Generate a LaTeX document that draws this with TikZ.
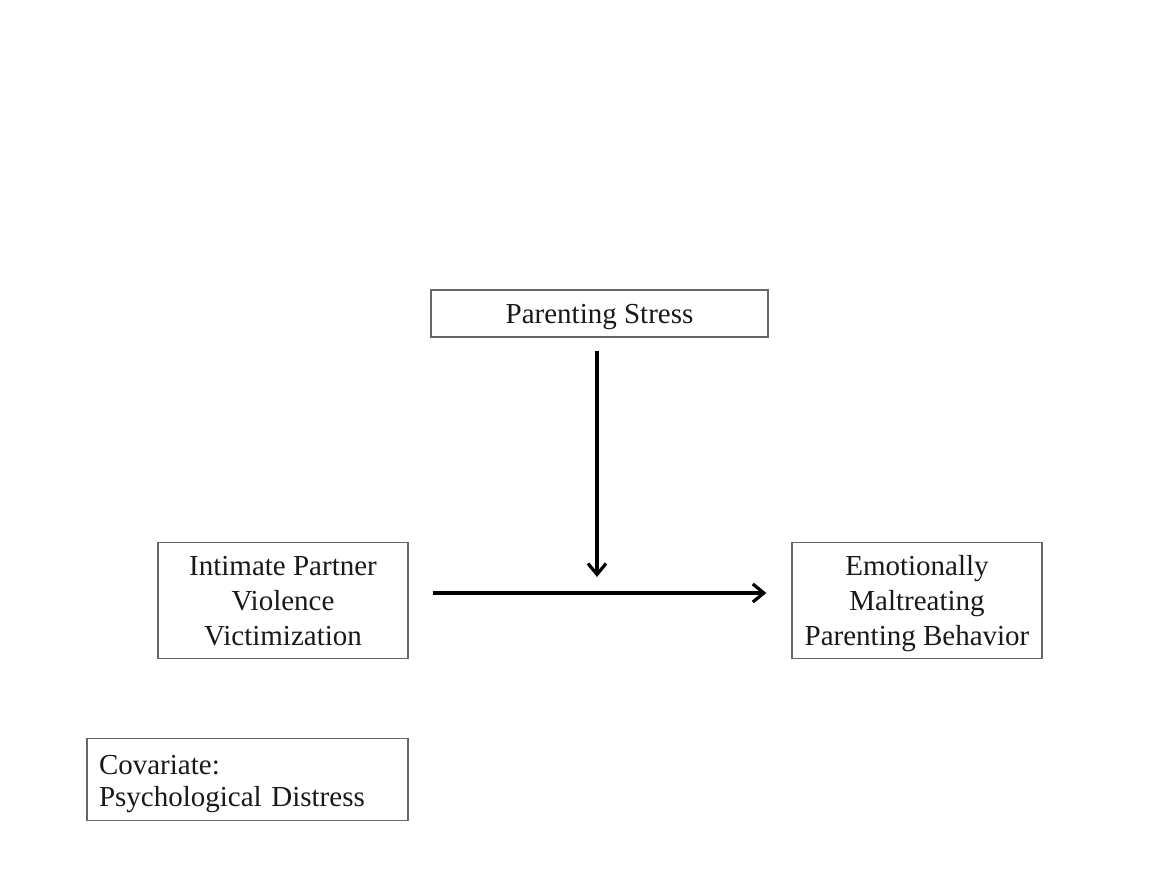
\documentclass[tikz,border=0pt]{standalone}
\usepackage{fontspec}
\setmainfont{Liberation Serif}
\usetikzlibrary{arrows.meta}
\begin{document}
\begin{tikzpicture}[x=1pt,y=-1pt,
  box/.style={draw=black!60, line width=1.3pt, inner sep=0pt, font=\fontsize{29}{35}\selectfont, text=black!90, align=center},
  arr/.style={line width=3.2pt, -{Straight Barb[length=11pt,width=18pt,line width=3.2pt]}}]
\useasboundingbox[fill=white] (0,0) rectangle (1159,873);
\node[box, text depth=0pt, minimum width=337pt, minimum height=47pt] (ps) at (599.5,313.5) {Parenting Stress};
\node[box, text depth=0pt, minimum width=250pt, minimum height=116pt] (ipv) at (283,600.5) {Intimate Partner\\Violence\\Victimization};
\node[box, text depth=0pt, minimum width=250pt, minimum height=116pt] (emp) at (917,600.5) {Emotionally\\Maltreating\\Parenting Behavior};
\node[box, minimum width=321pt, minimum height=82pt, text width=297pt, align=left, font=\fontsize{29}{31.5}\selectfont] (cov) at (247.5,779.5) {\rule{0pt}{28pt}Covariate:\\Psychological Distress};
\coordinate (mid) at (597,577);
\draw[arr, shorten <=13pt] (ps.south -| mid) -- (mid);
\draw[arr, shorten <=24pt, shorten >=25pt] ([yshift=7.5pt]ipv.east) -- ([yshift=7.5pt]emp.west);
\end{tikzpicture}
\end{document}
